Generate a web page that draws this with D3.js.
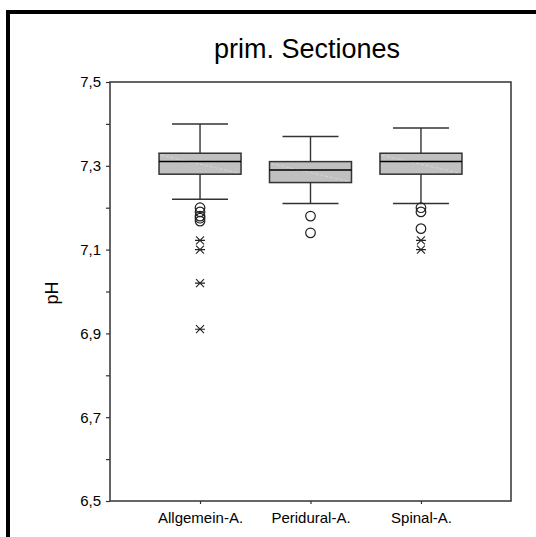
<!DOCTYPE html>
<html lang="de">
<head>
    <meta charset="utf-8"/>
    <title>prim. Sectiones</title>
    <script src="https://d3js.org/d3.v7.min.js"></script>
    <style>
        html, body { margin: 0; padding: 0; background: #fff; }
        svg { display: block; font-family: "Liberation Sans", Arial, sans-serif; }
    </style>
</head>
<body>
    <div id="chart"></div>

    <script>
        // Daten
        const categories = ["Allgemein-A.", "Peridural-A.", "Spinal-A."];
        const whiskerLow = [7.22, 7.21, 7.21];
        const q1 = [7.28, 7.26, 7.28];
        const median = [7.31, 7.29, 7.31];
        const q3 = [7.33, 7.31, 7.33];
        const whiskerHigh = [7.40, 7.37, 7.39];
        const outliers = [[7.20, 7.19, 7.18, 7.175, 7.168], [7.18, 7.14], [7.20, 7.19, 7.15]];
        const extremes = [[7.122, 7.10, 7.02, 6.91], [], [7.122, 7.10]];
        const yTicks = [6.5, 6.6, 6.7, 6.8, 6.9, 7.0, 7.1, 7.2, 7.3, 7.4, 7.5];
        const yLabelTicks = [6.5, 6.7, 6.9, 7.1, 7.3, 7.5];

        const width = 536, height = 537;
        const plot = {left: 110, right: 511, top: 82, bottom: 501};

        const svg = d3.select('#chart').append('svg')
            .attr('width', width)
            .attr('height', height);

        // äußerer Rahmen (nur links und oben sichtbar)
        svg.append('line').attr('x1', 8).attr('x2', 8).attr('y1', 10).attr('y2', height)
            .attr('stroke', '#000').attr('stroke-width', 4);
        svg.append('line').attr('x1', 6).attr('x2', width).attr('y1', 12).attr('y2', 12)
            .attr('stroke', '#000').attr('stroke-width', 4);

        // Titel
        svg.append('text')
            .attr('x', 307).attr('y', 58)
            .attr('text-anchor', 'middle')
            .style('font-size', '27px')
            .attr('fill', '#000')
            .text('prim. Sectiones');

        const x = d3.scalePoint()
            .domain(categories)
            .range([plot.left, plot.right])
            .padding(0.815);

        const y = d3.scaleLinear()
            .domain([6.5, 7.5])
            .range([plot.bottom, plot.top]);

        const fmt = d => d3.format('.1f')(d).replace('.', ',');

        // Y-Achse
        const yAxis = svg.append('g')
            .attr('transform', `translate(${plot.left},0)`)
            .call(d3.axisLeft(y)
                .tickValues(yTicks)
                .tickSize(4)
                .tickPadding(5)
                .tickFormat(d => yLabelTicks.some(v => Math.abs(v - d) < 1e-9) ? fmt(d) : ''));
        yAxis.select('.domain').remove();
        yAxis.selectAll('line').attr('stroke', '#333').attr('stroke-width', 1.2);
        yAxis.selectAll('text').attr('fill', '#000').style('font-size', '15px')
            .style('font-family', '"Liberation Sans", Arial, sans-serif');

        // X-Achse
        const xAxis = svg.append('g')
            .attr('transform', `translate(0,${plot.bottom})`)
            .call(d3.axisBottom(x).tickSize(3).tickPadding(8));
        xAxis.select('.domain').remove();
        xAxis.selectAll('line').attr('stroke', '#333').attr('stroke-width', 1.2);
        xAxis.selectAll('text').attr('fill', '#000').style('font-size', '15px')
            .style('font-family', '"Liberation Sans", Arial, sans-serif');

        // Plotrahmen
        svg.append('rect')
            .attr('x', plot.left).attr('y', plot.top)
            .attr('width', plot.right - plot.left)
            .attr('height', plot.bottom - plot.top)
            .attr('fill', 'none')
            .attr('stroke', '#333')
            .attr('stroke-width', 1.5);

        // y-Beschriftung
        svg.append('text')
            .attr('transform', 'translate(58,293) rotate(-90)')
            .attr('text-anchor', 'middle')
            .style('font-size', '18px')
            .attr('fill', '#000')
            .text('pH');

        const boxW = 82, capW = 56;
        const data = categories.map((c, i) => ({
            cat: c, lo: whiskerLow[i], q1: q1[i], med: median[i], q3: q3[i], hi: whiskerHigh[i],
            out: outliers[i], ext: extremes[i]
        }));

        const g = svg.append('g');
        const box = g.selectAll('.box').data(data).enter().append('g').attr('class', 'box');

        // Whisker
        box.append('line')
            .attr('x1', d => x(d.cat)).attr('x2', d => x(d.cat))
            .attr('y1', d => y(d.hi)).attr('y2', d => y(d.q3))
            .attr('stroke', '#333').attr('stroke-width', 1.4);
        box.append('line')
            .attr('x1', d => x(d.cat)).attr('x2', d => x(d.cat))
            .attr('y1', d => y(d.q1)).attr('y2', d => y(d.lo))
            .attr('stroke', '#333').attr('stroke-width', 1.4);
        box.append('line')
            .attr('x1', d => x(d.cat) - capW / 2).attr('x2', d => x(d.cat) + capW / 2)
            .attr('y1', d => y(d.hi)).attr('y2', d => y(d.hi))
            .attr('stroke', '#333').attr('stroke-width', 1.5);
        box.append('line')
            .attr('x1', d => x(d.cat) - capW / 2).attr('x2', d => x(d.cat) + capW / 2)
            .attr('y1', d => y(d.lo)).attr('y2', d => y(d.lo))
            .attr('stroke', '#333').attr('stroke-width', 1.5);

        // Box
        box.append('rect')
            .attr('x', d => x(d.cat) - boxW / 2)
            .attr('y', d => y(d.q3))
            .attr('width', boxW)
            .attr('height', d => y(d.q1) - y(d.q3))
            .attr('fill', '#c0c0c0')
            .attr('stroke', '#333')
            .attr('stroke-width', 1.5);
        // schwache Diagonale in der Box (Artefakt des Originals)
        box.append('line')
            .attr('x1', d => x(d.cat) - boxW / 2 + 2).attr('x2', d => x(d.cat) + boxW / 2 - 2)
            .attr('y1', d => y(d.q3) + 2).attr('y2', d => y(d.q1) - 1)
            .attr('stroke', '#dedede').attr('stroke-width', 0.7)
            .attr('stroke-dasharray', '3,2');
        // Median
        box.append('line')
            .attr('x1', d => x(d.cat) - boxW / 2).attr('x2', d => x(d.cat) + boxW / 2)
            .attr('y1', d => y(d.med)).attr('y2', d => y(d.med))
            .attr('stroke', '#000').attr('stroke-width', 1.5);

        // Ausreißer (Kreise)
        box.selectAll('.out')
            .data(d => d.out.map(v => ({cat: d.cat, v: v})))
            .enter().append('circle')
            .attr('class', 'out')
            .attr('cx', d => x(d.cat))
            .attr('cy', d => y(d.v))
            .attr('r', 4.8)
            .attr('fill', 'none')
            .attr('stroke', '#222')
            .attr('stroke-width', 1.2);

        // Extremwerte (Sterne)
        const star = 'M-5,0L5,0M-4,-4L4,4M-4,4L4,-4';
        box.selectAll('.ext')
            .data(d => d.ext.map(v => ({cat: d.cat, v: v})))
            .enter().append('path')
            .attr('class', 'ext')
            .attr('transform', d => `translate(${x(d.cat)},${y(d.v)})`)
            .attr('d', star)
            .attr('fill', 'none')
            .attr('stroke', '#222')
            .attr('stroke-width', 1.1);
    </script>
</body>
</html>
